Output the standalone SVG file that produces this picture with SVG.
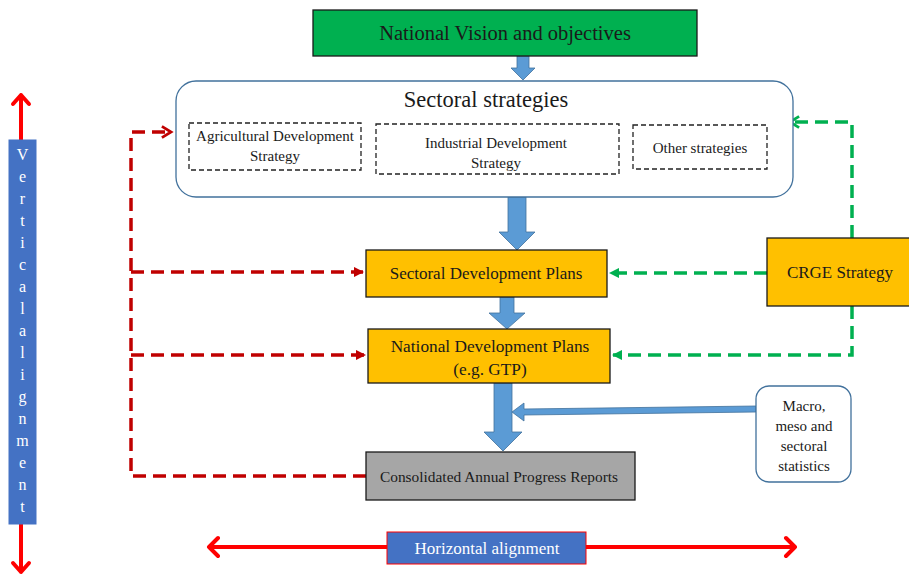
<svg xmlns="http://www.w3.org/2000/svg" width="909" height="576" viewBox="0 0 909 576">
<defs>
<style>
text{font-family:"Liberation Serif","Times New Roman",serif;fill:#1a1a1a;text-anchor:middle}
.wt{fill:#ffffff}
.blue{fill:#5B9BD5;stroke:#41719C;stroke-width:0.8}
.red{stroke:#C00000;stroke-width:3.5;fill:none;stroke-dasharray:13 7}
.green{stroke:#00B050;stroke-width:3.5;fill:none;stroke-dasharray:13 7}
.dash{fill:#fff;stroke:#222;stroke-width:1.3;stroke-dasharray:5 3}
.align{stroke:#FF0000;stroke-width:4;fill:none;stroke-linecap:round;stroke-linejoin:round}
</style>
<marker id="rc" viewBox="0 0 10 10" refX="8" refY="5" markerWidth="4" markerHeight="4" orient="auto" markerUnits="strokeWidth"><path d="M1.5,1 L8,5 L1.5,9" fill="none" stroke="#C00000" stroke-width="2"/></marker>
<marker id="rf" viewBox="0 0 10 10" refX="9" refY="5" markerWidth="3" markerHeight="3" orient="auto" markerUnits="strokeWidth"><path d="M0,0 L10,5 L0,10 Z" fill="#C00000"/></marker>
<marker id="gc" viewBox="0 0 10 10" refX="8" refY="5" markerWidth="4" markerHeight="4" orient="auto" markerUnits="strokeWidth"><path d="M1.5,1 L8,5 L1.5,9" fill="none" stroke="#00B050" stroke-width="2"/></marker>
<marker id="gf" viewBox="0 0 10 10" refX="9" refY="5" markerWidth="3" markerHeight="3" orient="auto" markerUnits="strokeWidth"><path d="M0,0 L10,5 L0,10 Z" fill="#00B050"/></marker>
</defs>
<rect width="909" height="576" fill="#fff"/>

<g id="connectors">
<polygon class="blue" points="517,56 529,56 529,68 535,68 523,80 511,68 517,68"/>
<polygon class="blue" points="508,197 526,197 526,232 535,232 517,250 499,232 508,232"/>
<polygon class="blue" points="500,297 514,297 514,313 525,313 507,329 489,313 500,313"/>
<polygon class="blue" points="494,383 512,383 512,432 522,432 503,451 484,432 494,432"/>
<polygon class="blue" points="756,406 756,412 524,415 524,421 512,412 524,403 524,409"/>
<path class="red" d="M366,476 H131 V132 H171" marker-end="url(#rc)"/>
<path class="red" d="M131,272 H363" marker-end="url(#rf)"/>
<path class="red" d="M131,355 H365" marker-end="url(#rf)"/>
<path class="green" d="M852,238 V122 H790" marker-end="url(#gc)"/>
<path class="green" d="M767,273 H610" marker-end="url(#gf)"/>
<path class="green" d="M852,306 V355 H613" marker-end="url(#gf)"/>
</g>

<g id="vision">
<rect x="313" y="10" width="384" height="46" fill="#00B050" stroke="#1a1a1a" stroke-width="1.3"/>
<text x="505" y="40" font-size="20.5">National Vision and objectives</text>
</g>

<g id="sectoral-strategies">
<rect x="176" y="81" width="617" height="116" rx="20" fill="#fff" stroke="#41719C" stroke-width="1.3"/>
<text x="486" y="107" font-size="22.5">Sectoral strategies</text>
</g>
<g id="agri">
<rect class="dash" x="189" y="123" width="172" height="47"/>
<text x="275" y="141" font-size="15">Agricultural Development</text>
<text x="275" y="161" font-size="15">Strategy</text>
</g>
<g id="industrial">
<rect class="dash" x="376" y="124" width="243" height="50"/>
<text x="496" y="148" font-size="15">Industrial Development</text>
<text x="496" y="168" font-size="15">Strategy</text>
</g>
<g id="other">
<rect class="dash" x="633" y="125" width="134" height="44" stroke="#888"/>
<text x="700" y="153" font-size="15">Other strategies</text>
</g>

<g id="sdp">
<rect x="366" y="250" width="241" height="47" fill="#FFC000" stroke="#1a1a1a" stroke-width="1.3"/>
<text x="486" y="279" font-size="17">Sectoral Development Plans</text>
</g>
<g id="ndp">
<rect x="368" y="329" width="242" height="54" fill="#FFC000" stroke="#1a1a1a" stroke-width="1.3"/>
<text x="490" y="352" font-size="17.3">National Development Plans</text>
<text x="490" y="375" font-size="17.3">(e.g. GTP)</text>
</g>
<g id="crge">
<rect x="767" y="238" width="145" height="68" fill="#FFC000" stroke="#1a1a1a" stroke-width="1.3"/>
<text x="840" y="278" font-size="17">CRGE Strategy</text>
</g>
<g id="capr">
<rect x="366" y="452" width="269" height="48" fill="#A6A6A6" stroke="#1a1a1a" stroke-width="1.3"/>
<text x="499" y="482" font-size="15.4">Consolidated Annual Progress Reports</text>
</g>
<g id="macro">
<rect x="756" y="386" width="95" height="96" rx="13" fill="#fff" stroke="#41719C" stroke-width="1.3"/>
<text x="804" y="411" font-size="15">Macro,</text>
<text x="804" y="431" font-size="15">meso and</text>
<text x="804" y="451" font-size="15">sectoral</text>
<text x="804" y="471" font-size="15">statistics</text>
</g>

<g id="vertical-alignment">
<path class="align" d="M21,140 V95 M13,104 L21,95 L29,104"/>
<path class="align" d="M21,524 V572 M13,563 L21,572 L29,563"/>
<rect x="9" y="140" width="27" height="384" fill="#4472C4" stroke="#4472C4"/>
<g font-size="16">
<text class="wt" x="22.5" y="160">V</text>
<text class="wt" x="22.5" y="182">e</text>
<text class="wt" x="22.5" y="204">r</text>
<text class="wt" x="22.5" y="226">t</text>
<text class="wt" x="22.5" y="248">i</text>
<text class="wt" x="22.5" y="270">c</text>
<text class="wt" x="22.5" y="292">a</text>
<text class="wt" x="22.5" y="314">l</text>
<text class="wt" x="22.5" y="336">a</text>
<text class="wt" x="22.5" y="358">l</text>
<text class="wt" x="22.5" y="380">i</text>
<text class="wt" x="22.5" y="402">g</text>
<text class="wt" x="22.5" y="424">n</text>
<text class="wt" x="22.5" y="446">m</text>
<text class="wt" x="22.5" y="468">e</text>
<text class="wt" x="22.5" y="490">n</text>
<text class="wt" x="22.5" y="512">t</text>
</g>
</g>

<g id="horizontal-alignment">
<path class="align" d="M209,547 H795 M218,538 L209,547 L218,556 M786,538 L795,547 L786,556"/>
<rect x="387" y="532" width="199" height="32" fill="#4472C4" stroke="#FF0000" stroke-width="1"/>
<text class="wt" x="487" y="554" font-size="17">Horizontal alignment</text>
</g>
</svg>
